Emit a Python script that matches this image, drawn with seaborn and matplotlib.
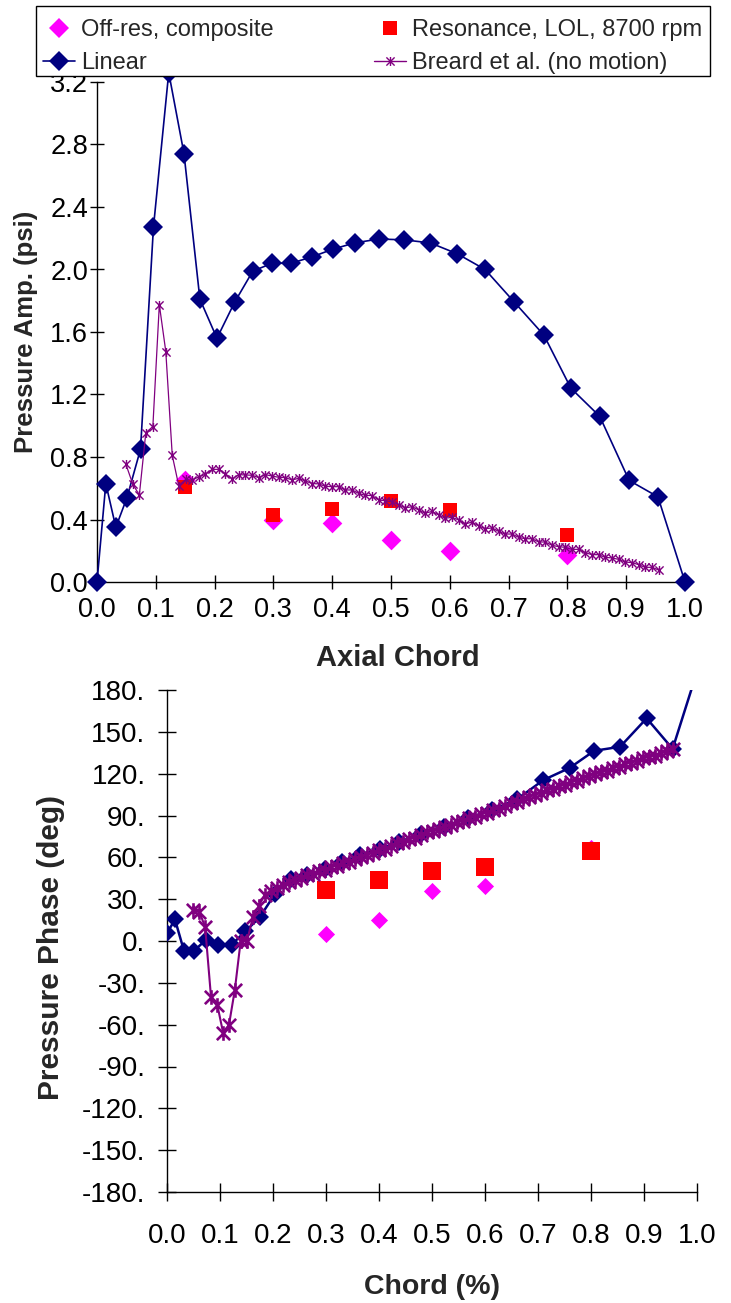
import numpy as np
import pandas as pd
import matplotlib
matplotlib.use("Agg")
import matplotlib.pyplot as plt
import seaborn as sns
from matplotlib.path import Path
from matplotlib.lines import Line2D
from matplotlib.patches import Rectangle

# ---------------- data ----------------
linear_x = [0.0, 0.015, 0.032, 0.051, 0.074, 0.096, 0.122, 0.148, 0.175, 0.204,
            0.234, 0.265, 0.298, 0.330, 0.365, 0.401, 0.438, 0.479, 0.522, 0.567,
            0.613, 0.660, 0.710, 0.760, 0.806, 0.855, 0.905, 0.954, 1.0]
linear_amp = [0.0, 0.63, 0.35, 0.54, 0.85, 2.27, 3.26, 2.74, 1.81, 1.56,
              1.79, 1.99, 2.04, 2.04, 2.08, 2.13, 2.17, 2.195, 2.19, 2.17,
              2.10, 2.00, 1.79, 1.58, 1.24, 1.06, 0.65, 0.545, 0.0]
linear_phase = [5.5, 15.5, -7.0, -7.0, 1.0, -2.6, -2.6, 7.0, 17.0, 34.0,
                44.5, 47.0, 51.5, 56.5, 61.5, 66.0, 71.0, 77.0, 82.0, 88.0,
                94.0, 101.5, 115.4, 124.2, 136.4, 139.3, 159.7, 137.8, 193.0]

breard_x = [0.049, 0.061, 0.072, 0.083, 0.095, 0.106, 0.117, 0.128, 0.139, 0.151,
            0.162, 0.173, 0.184, 0.196, 0.207, 0.218, 0.230, 0.241, 0.252, 0.264,
            0.275, 0.286, 0.298, 0.309, 0.320, 0.332, 0.343, 0.354, 0.366, 0.377,
            0.388, 0.400, 0.411, 0.422, 0.434, 0.445, 0.456, 0.468, 0.479, 0.490,
            0.502, 0.513, 0.524, 0.536, 0.547, 0.558, 0.570, 0.581, 0.592, 0.604,
            0.615, 0.626, 0.638, 0.649, 0.660, 0.672, 0.683, 0.694, 0.706, 0.717,
            0.728, 0.740, 0.751, 0.762, 0.774, 0.785, 0.796, 0.808, 0.819, 0.830,
            0.842, 0.853, 0.864, 0.876, 0.887, 0.898, 0.910, 0.921, 0.932, 0.944,
            0.955]
breard_amp = [0.755, 0.625, 0.557, 0.955, 0.995, 1.775, 1.475, 0.81, 0.617, 0.657,
              0.651, 0.674, 0.689, 0.721, 0.721, 0.693, 0.659, 0.687, 0.685, 0.683,
              0.668, 0.687, 0.678, 0.670, 0.668, 0.653, 0.664, 0.647, 0.630, 0.628,
              0.613, 0.610, 0.610, 0.589, 0.589, 0.567, 0.555, 0.553, 0.525, 0.520,
              0.512, 0.495, 0.474, 0.482, 0.461, 0.440, 0.452, 0.429, 0.408, 0.414,
              0.397, 0.371, 0.384, 0.359, 0.341, 0.346, 0.324, 0.307, 0.307, 0.286,
              0.277, 0.277, 0.256, 0.256, 0.235, 0.226, 0.222, 0.209, 0.209, 0.188,
              0.175, 0.175, 0.158, 0.154, 0.145, 0.128, 0.124, 0.111, 0.094, 0.094,
              0.077]
breard_phase = [22, 21, 10, -40, -46, -66, -60, -35, 0, 0,
                17, 25, 33, 36, 38, 40, 42, 44, 45, 47,
                48, 50, 51, 53, 54, 56, 57, 59, 60, 62,
                63, 65, 66, 68, 70, 71, 73, 74, 76, 78,
                79, 80, 82, 83, 85, 86, 88, 89, 91, 92,
                94, 95, 97, 99, 100, 102, 103, 105, 106, 108,
                109, 111, 112, 114, 115, 117, 118, 120, 121, 122,
                124, 125, 127, 128, 129, 131, 132, 133, 135, 136,
                138]

amp_exp_x = [0.15, 0.3, 0.4, 0.5, 0.6, 0.8]
offres_amp = [0.65, 0.40, 0.38, 0.27, 0.20, 0.17]
resonance_amp = [0.61, 0.43, 0.47, 0.52, 0.46, 0.30]

phase_exp_x = [0.3, 0.4, 0.5, 0.6, 0.8]
offres_phase = [5.3, 15.0, 35.7, 39.5, 67.0]
resonance_phase = [36.4, 43.4, 50.0, 52.9, 64.2]

chord_ticks = [0.0, 0.1, 0.2, 0.3, 0.4, 0.5, 0.6, 0.7, 0.8, 0.9, 1.0]
chord_labels = ["0.0", "0.1", "0.2", "0.3", "0.4", "0.5", "0.6", "0.7", "0.8", "0.9", "1.0"]
amp_ticks = [0.0, 0.4, 0.8, 1.2, 1.6, 2.0, 2.4, 2.8, 3.2]
amp_labels = ["0.0", "0.4", "0.8", "1.2", "1.6", "2.0", "2.4", "2.8", "3.2"]
phase_ticks = [-180, -150, -120, -90, -60, -30, 0, 30, 60, 90, 120, 150, 180]
phase_labels = ["-180.", "-150.", "-120.", "-90.", "-60.", "-30.", "0.",
                "30.", "60.", "90.", "120.", "150.", "180."]

series_labels = ["Off-res, composite", "Linear",
                 "Resonance, LOL, 8700 rpm", "Breard et al. (no motion)"]

# ---------------- style ----------------
sns.set_style("ticks")
plt.rcParams['font.family'] = ['Liberation Sans', 'DejaVu Sans']
plt.rcParams['axes.unicode_minus'] = False

NAVY = "#000080"
MAGENTA = "#FF00FF"
RED = "#FF0000"
PURPLE = "#800080"

star = Path([(-1, -1), (1, 1), (-1, 1), (1, -1), (0, -1.1), (0, 1.1)],
            [Path.MOVETO, Path.LINETO, Path.MOVETO, Path.LINETO, Path.MOVETO, Path.LINETO])

W, H = 731, 1303
fig = plt.figure(figsize=(W / 100, H / 100), dpi=100)
ax1 = fig.add_axes([97 / W, (H - 582) / H, 588 / W, 500 / H])
ax2 = fig.add_axes([167 / W, (H - 1192) / H, 530 / W, 502 / H])

# ---------------- top chart ----------------
sns.scatterplot(x=amp_exp_x, y=offres_amp, marker='D', s=100, color=MAGENTA,
                linewidth=0, ax=ax1, zorder=2, legend=False)
sns.scatterplot(x=amp_exp_x, y=resonance_amp, marker='s', s=100, color=RED,
                linewidth=0, ax=ax1, zorder=3, legend=False)
sns.lineplot(x=linear_x, y=linear_amp, sort=False, estimator=None, color=NAVY,
             lw=1.2, marker='D', markersize=10, markeredgewidth=0,
             markeredgecolor=NAVY, ax=ax1, zorder=4, clip_on=False)
sns.lineplot(x=breard_x, y=breard_amp, sort=False, estimator=None, color=PURPLE,
             lw=0.9, marker=star, markersize=6.5, markeredgewidth=1.0,
             markeredgecolor=PURPLE, ax=ax1, zorder=5)

ax1.set_xlim(0, 1)
ax1.set_ylim(0, 3.2)
ax1.set_xticks(chord_ticks)
ax1.set_xticklabels(chord_labels)
ax1.set_yticks(amp_ticks)
ax1.set_yticklabels(amp_labels)
ax1.tick_params(axis='both', direction='inout', length=10, width=1, color='black',
                labelsize=19.5, labelcolor='black', bottom=True, left=True)
ax1.tick_params(axis='x', pad=6)
ax1.tick_params(axis='y', pad=1.5)
for s in ['top', 'right']:
    ax1.spines[s].set_visible(False)
for s in ['left', 'bottom']:
    ax1.spines[s].set_color('black')
    ax1.spines[s].set_linewidth(1)
ax1.set_xlabel("Axial Chord", fontsize=21, fontweight='bold', va='center')
ax1.xaxis.set_label_coords((398 - 97) / 588, (582 - 658) / 500)
ax1.set_ylabel("Pressure Amp. (psi)", fontsize=18.5, fontweight='bold', va='center')
ax1.yaxis.set_label_coords((26 - 97) / 588, 0.5)

# ---------------- bottom chart ----------------
sns.scatterplot(x=phase_exp_x, y=offres_phase, marker='D', s=76, color=MAGENTA,
                linewidth=0, ax=ax2, zorder=2, legend=False)
sns.scatterplot(x=phase_exp_x, y=resonance_phase, marker='s', s=170, color=RED,
                linewidth=0, ax=ax2, zorder=3, legend=False)
sns.lineplot(x=linear_x, y=linear_phase, sort=False, estimator=None, color=NAVY,
             lw=1.8, marker='D', markersize=8.8, markeredgewidth=0,
             markeredgecolor=NAVY, ax=ax2, zorder=4)
sns.lineplot(x=breard_x, y=breard_phase, sort=False, estimator=None, color=PURPLE,
             lw=1.5, marker=star, markersize=10.5, markeredgewidth=1.9,
             markeredgecolor=PURPLE, ax=ax2, zorder=5)

ax2.set_xlim(0, 1)
ax2.set_ylim(-180, 180)
ax2.set_xticks(chord_ticks)
ax2.set_xticklabels(chord_labels)
ax2.set_yticks(phase_ticks)
ax2.set_yticklabels(phase_labels)
ax2.tick_params(axis='both', direction='inout', length=13, width=1, color='black',
                labelsize=20, labelcolor='black', bottom=True, left=True)
ax2.tick_params(axis='x', pad=16)
ax2.tick_params(axis='y', pad=9)
for s in ['top', 'right']:
    ax2.spines[s].set_visible(False)
for s in ['left', 'bottom']:
    ax2.spines[s].set_color('black')
    ax2.spines[s].set_linewidth(1)
ax2.set_xlabel("Chord (%)", fontsize=20.5, fontweight='bold', va='center')
ax2.xaxis.set_label_coords(0.5, (1192 - 1287) / 502)
ax2.set_ylabel("Pressure Phase (deg)", fontsize=21.5, fontweight='bold', va='center')
ax2.yaxis.set_label_coords((51 - 167) / 530, (1192 - 947) / 502)

# ---------------- legend ----------------
box = Rectangle((36 / W, 1 - 76 / H), (710 - 36) / W, (76 - 6.5) / H,
                transform=fig.transFigure, facecolor='white', edgecolor='black',
                linewidth=1.0, zorder=6)
fig.add_artist(box)

handles = [
    Line2D([], [], ls='none', marker='D', markersize=10, color=MAGENTA, markeredgewidth=0),
    Line2D([], [], ls='-', lw=1.2, marker='D', markersize=10, color=NAVY, markeredgewidth=0),
    Line2D([], [], ls='none', marker='s', markersize=10, color=RED, markeredgewidth=0),
    Line2D([], [], ls='-', lw=1.0, marker=star, markersize=6.5, color=PURPLE, markeredgewidth=1.0),
]
FS = 17
em = FS * 100 / 72
leg = fig.legend(handles, series_labels, loc='center left',
                 bbox_to_anchor=(43 / W, 1 - 46.5 / H),
                 ncol=2, frameon=False,
                 fontsize=FS, handlelength=32 / em, handletextpad=6 / em,
                 borderpad=0, labelspacing=0.48, borderaxespad=0,
                 columnspacing=100 / em)
leg.set_zorder(7)

fig.savefig("out.png", dpi=100)
